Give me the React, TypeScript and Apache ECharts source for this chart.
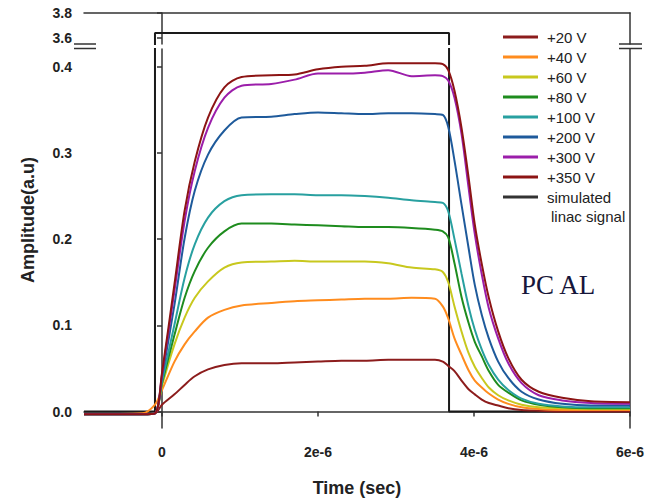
import React, { useEffect, useRef } from "react";
import * as echarts from "echarts";

// time in microseconds (axis labels show e-6)
const T = [-1.0, -0.25, -0.09, 0.0, 0.16, 0.29, 0.42, 0.59, 0.8, 1.02, 1.4, 1.7, 2.0, 2.3, 2.6, 2.9, 3.2, 3.5, 3.6, 3.67, 3.75, 3.84, 3.93, 4.01, 4.1, 4.19, 4.31, 4.44, 4.61, 4.83, 5.13, 5.5, 6.0];

const V20 = [-0.003, -0.003, -0.002, 0.008, 0.02, 0.031, 0.041, 0.049, 0.054, 0.056, 0.056, 0.057, 0.058, 0.059, 0.059, 0.06, 0.06, 0.06, 0.058, 0.053, 0.047, 0.036, 0.026, 0.02, 0.014, 0.01, 0.007, 0.004, 0.002, 0.001, 0.0, 0.0, 0.0];
const V40 = [-0.003, -0.002, 0.008, 0.025, 0.058, 0.078, 0.093, 0.109, 0.118, 0.123, 0.126, 0.128, 0.129, 0.13, 0.131, 0.131, 0.132, 0.131, 0.122, 0.108, 0.085, 0.066, 0.048, 0.036, 0.028, 0.021, 0.014, 0.009, 0.005, 0.003, 0.002, 0.002, 0.002];
const V60 = [-0.003, -0.003, -0.002, 0.03, 0.078, 0.109, 0.132, 0.151, 0.167, 0.173, 0.174, 0.175, 0.174, 0.174, 0.174, 0.172, 0.167, 0.165, 0.162, 0.15, 0.122, 0.093, 0.068, 0.052, 0.039, 0.028, 0.019, 0.013, 0.008, 0.005, 0.004, 0.003, 0.003];
const V80 = [-0.003, -0.003, -0.002, 0.033, 0.089, 0.132, 0.163, 0.19, 0.209, 0.218, 0.218, 0.217, 0.216, 0.215, 0.214, 0.214, 0.213, 0.211, 0.209, 0.202, 0.172, 0.133, 0.103, 0.081, 0.064, 0.047, 0.031, 0.022, 0.013, 0.008, 0.005, 0.004, 0.004];
const V100 = [-0.003, -0.003, -0.002, 0.035, 0.101, 0.155, 0.194, 0.225, 0.244, 0.251, 0.252, 0.252, 0.251, 0.251, 0.25, 0.248, 0.245, 0.243, 0.242, 0.232, 0.2, 0.16, 0.122, 0.095, 0.072, 0.054, 0.037, 0.025, 0.015, 0.009, 0.006, 0.005, 0.005];
const V200 = [-0.003, -0.003, -0.002, 0.04, 0.124, 0.201, 0.256, 0.298, 0.326, 0.341, 0.342, 0.345, 0.347, 0.346, 0.345, 0.346, 0.346, 0.345, 0.344, 0.33, 0.291, 0.24, 0.19, 0.147, 0.112, 0.085, 0.058, 0.039, 0.023, 0.014, 0.009, 0.007, 0.007];
const V300 = [-0.003, -0.003, -0.002, 0.043, 0.14, 0.221, 0.279, 0.329, 0.364, 0.378, 0.38, 0.385, 0.392, 0.392, 0.393, 0.396, 0.389, 0.39, 0.389, 0.384, 0.364, 0.322, 0.26, 0.206, 0.159, 0.12, 0.085, 0.056, 0.033, 0.019, 0.013, 0.01, 0.009];
const V350 = [-0.003, -0.003, -0.002, 0.045, 0.148, 0.233, 0.29, 0.341, 0.376, 0.388, 0.39, 0.391, 0.397, 0.4, 0.401, 0.404, 0.404, 0.404, 0.403, 0.396, 0.372, 0.329, 0.272, 0.217, 0.171, 0.132, 0.093, 0.062, 0.037, 0.023, 0.016, 0.012, 0.011];

const LINAC_T = [-1.0, -0.09, -0.09, 3.68, 3.68, 6.0];
const LINAC_V = [0, 0, 3.64, 3.64, 0, 0];

const SERIES_NAMES = ["+20 V", "+40 V", "+60 V", "+80 V", "+100 V", "+200 V", "+300 V", "+350 V"];
const SERIES_VALUES = [V20, V40, V60, V80, V100, V200, V300, V350];
const SERIES_COLORS = ["#8c1c1c", "#ff8c1e", "#c8c81e", "#1e8c1e", "#28a0a0", "#1e5a9b", "#9b1eaa", "#8c1414"];
const LINAC_NAME = "simulated linac signal";

const X_TICKS = [0, 2, 4, 6];
const Y_TICKS_LOW = [0, 0.1, 0.2, 0.3, 0.4];
const Y_TICKS_HIGH = [3.6, 3.8];

const AXIS_COLOR = "#333";
const FONT = "Liberation Sans, Arial, sans-serif";

export default function App() {
  const ref = useRef<HTMLDivElement>(null);
  useEffect(() => {
    document.body.style.margin = "0";
    if (!ref.current) return;
    const chart = echarts.init(ref.current, null, { renderer: "svg" });
    const axisLine = { show: true, lineStyle: { color: AXIS_COLOR, width: 1.5 } };
    const labelStyle = { fontFamily: FONT, fontWeight: "bold" as const, fontSize: 14, color: "#222" };
    const series: any[] = SERIES_NAMES.map((name, i) => ({
      type: "line",
      name,
      xAxisIndex: 1,
      yAxisIndex: 2,
      data: T.map((t, j) => [t, SERIES_VALUES[i][j]]),
      symbol: "none",
      showSymbol: false,
      smooth: 0.3,
      lineStyle: { width: 2, color: SERIES_COLORS[i] },
      itemStyle: { color: SERIES_COLORS[i] },
      z: 3 + i,
    }));
    [0, 1].forEach((g) => {
      series.push({
        type: "line",
        name: LINAC_NAME,
        xAxisIndex: g,
        yAxisIndex: g === 0 ? 0 : 2,
        data: LINAC_T.map((t, j) => [t, LINAC_V[j]]),
        symbol: "none",
        showSymbol: false,
        clip: true,
        lineStyle: { width: 2, color: "#1a1a1a" },
        itemStyle: { color: "#333" },
        z: 2,
      });
    });
    const breakLine = (x1: number, x2: number, y: number) => ({
      type: "line",
      shape: { x1, y1: y, x2, y2: y },
      style: { stroke: AXIS_COLOR, lineWidth: 1.5 },
      z: 100,
    });
    chart.setOption({
      animation: false,
      backgroundColor: "#fff",
      grid: [
        { left: 84, top: 13, width: 546, height: 31, containLabel: false, outerBoundsMode: "none" },
        { left: 84, top: 49, width: 546, height: 379, containLabel: false, outerBoundsMode: "none" },
      ],
      xAxis: [
        {
          gridIndex: 0, type: "value", min: -1, max: 6, position: "top",
          axisLine, axisTick: { show: false }, axisLabel: { show: false }, splitLine: { show: false },
        },
        {
          gridIndex: 1, type: "value", min: -1, max: 6, position: "bottom",
          axisLine,
          axisTick: { show: true, length: 5, customValues: X_TICKS, lineStyle: { color: AXIS_COLOR, width: 1.5 } },
          axisLabel: { ...labelStyle, margin: 17, customValues: X_TICKS, formatter: (v: number) => (v === 0 ? "0" : `${v}e-6`) },
          splitLine: { show: false },
          name: "Time (sec)", nameLocation: "middle", nameGap: 51,
          nameTextStyle: { fontFamily: FONT, fontWeight: "bold", fontSize: 18, color: "#222" },
        },
      ],
      yAxis: [
        {
          gridIndex: 0, type: "value", min: 3.552, max: 3.8,
          axisLine,
          axisTick: { show: true, length: 5, customValues: Y_TICKS_HIGH, lineStyle: { color: AXIS_COLOR, width: 1.5 } },
          axisLabel: { ...labelStyle, margin: 12, customValues: Y_TICKS_HIGH, formatter: (v: number) => v.toFixed(1) },
          splitLine: { show: false },
        },
        {
          gridIndex: 0, type: "value", min: 3.552, max: 3.8, position: "right",
          axisLine, axisTick: { show: false }, axisLabel: { show: false }, splitLine: { show: false },
        },
        {
          gridIndex: 1, type: "value", min: -0.019, max: 0.4205,
          axisLine,
          axisTick: { show: true, length: 5, customValues: Y_TICKS_LOW, lineStyle: { color: AXIS_COLOR, width: 1.5 } },
          axisLabel: { ...labelStyle, margin: 12, customValues: Y_TICKS_LOW, formatter: (v: number) => v.toFixed(1) },
          splitLine: { show: false },
        },
        {
          gridIndex: 1, type: "value", min: -0.019, max: 0.4205, position: "right",
          axisLine, axisTick: { show: false }, axisLabel: { show: false }, splitLine: { show: false },
        },
      ],
      legend: {
        orient: "vertical",
        left: 503,
        top: 27,
        padding: 0,
        itemGap: 0,
        itemWidth: 35,
        itemHeight: 3,
        icon: "rect",
        align: "left",
        selectedMode: false,
        formatter: (name: string) => (name === LINAC_NAME ? "simulated" : name),
        textStyle: { fontFamily: FONT, fontSize: 15, color: "#222", lineHeight: 20, padding: [0, 0, 0, 4] },
        data: [...SERIES_NAMES, LINAC_NAME],
      },
      graphic: [
        {
          type: "text", x: 28, y: 220, rotation: Math.PI / 2, z: 100,
          style: { text: "Amplitude(a.u)", font: "bold 18px 'Liberation Sans', Arial, sans-serif", fill: "#222", align: "center", verticalAlign: "middle" },
        },
        {
          type: "text", left: 551, top: 209, z: 100,
          style: { text: "linac signal", font: "15px 'Liberation Sans', Arial, sans-serif", fill: "#222" },
        },
        {
          type: "text", left: 521, top: 271, z: 100,
          style: { text: "PC AL", font: "27px 'Liberation Serif', 'Times New Roman', serif", fill: "#16163a" },
        },
        breakLine(74, 96, 44),
        breakLine(74, 96, 48.5),
        breakLine(619, 642, 44),
        breakLine(619, 642, 48.5),
      ],
      series,
    });
    return () => chart.dispose();
  }, []);
  return <div ref={ref} style={{ width: 647, height: 498 }} />;
}
